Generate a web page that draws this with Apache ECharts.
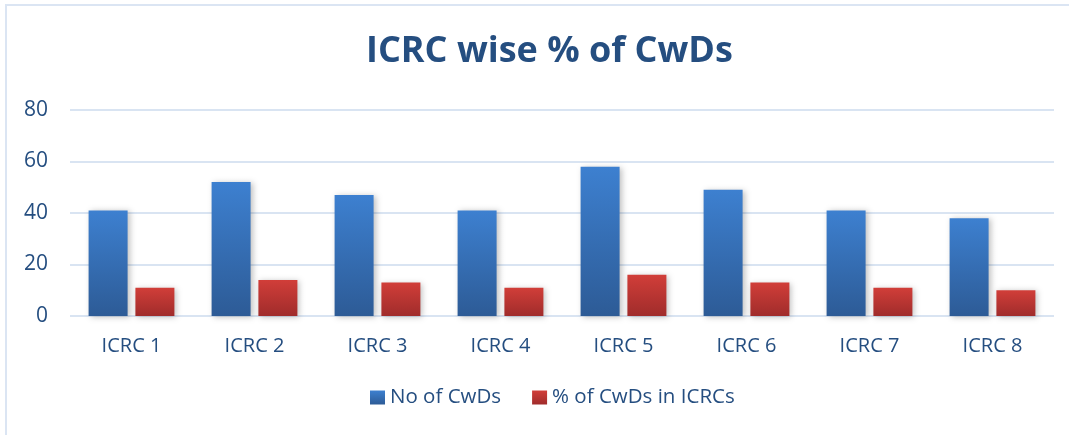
<!DOCTYPE html>
<html>
<head>
<meta charset="utf-8">
<script src="https://cdn.jsdelivr.net/npm/echarts@6/dist/echarts.min.js"></script>
<style>
html,body{margin:0;padding:0;background:#fff;}
#c{width:1069px;height:435px;}
</style>
</head>
<body>
<div id="c"></div>
<script>
const categories = ['ICRC 1','ICRC 2','ICRC 3','ICRC 4','ICRC 5','ICRC 6','ICRC 7','ICRC 8'];
const noOfCwDs = [41, 52, 47, 41, 58, 49, 41, 38];
const pctCwDs = [11, 14, 13, 11, 16, 13, 11, 10];
const seriesNames = ['No of CwDs', '% of CwDs in ICRCs'];

const textColor = '#254e80';
const font = 'Open Sans';
const chart = echarts.init(document.getElementById('c'), null, {renderer:'canvas'});
function grad(top, bottom){
  return new echarts.graphic.LinearGradient(0,0,0,1,[{offset:0,color:top},{offset:1,color:bottom}]);
}
chart.setOption({
  backgroundColor:'#ffffff',
  animation:false,
  title:{
    text:'ICRC wise % of CwDs',
    left:361, top:29,
    textStyle:{fontFamily:font, fontWeight:'bold', fontSize:36, color:textColor}
  },
  graphic:[
    {type:'line', shape:{x1:5,y1:5,x2:1069,y2:5}, style:{stroke:'#dbe5f3', lineWidth:2}},
    {type:'line', shape:{x1:6,y1:5,x2:6,y2:435}, style:{stroke:'#dbe5f3', lineWidth:2}}
  ],
  legend:{
    bottom:22, left:365,
    itemWidth:15, itemHeight:14, itemGap:31,
    icon:'rect',
    textStyle:{fontFamily:font, fontSize:20.5, color:textColor},
    data:seriesNames
  },
  grid:{left:70, right:15, top:110, bottom:119, containLabel:false},
  xAxis:{
    type:'category', data:categories,
    axisLine:{show:false}, axisTick:{show:false},
    axisLabel:{fontFamily:font, fontSize:20, color:textColor, margin:20}
  },
  yAxis:{
    type:'value', min:0, max:80, interval:20,
    axisLine:{show:false}, axisTick:{show:false},
    axisLabel:{fontFamily:font, fontSize:21, color:textColor, margin:22},
    splitLine:{lineStyle:{color:'#d9e4f2', width:2}}
  },
  series:[
    {name:seriesNames[0], type:'bar', data:noOfCwDs, barWidth:39, barGap:'20%',
     itemStyle:{color:grad('#3d80d0','#2d5b96'), shadowColor:'rgba(0,0,0,0.25)', shadowBlur:6, shadowOffsetX:2, shadowOffsetY:1}},
    {name:seriesNames[1], type:'bar', data:pctCwDs, barWidth:39,
     itemStyle:{color:grad('#d13e39','#a02c2b'), shadowColor:'rgba(0,0,0,0.25)', shadowBlur:6, shadowOffsetX:2, shadowOffsetY:1}}
  ]
});
</script>
</body>
</html>
